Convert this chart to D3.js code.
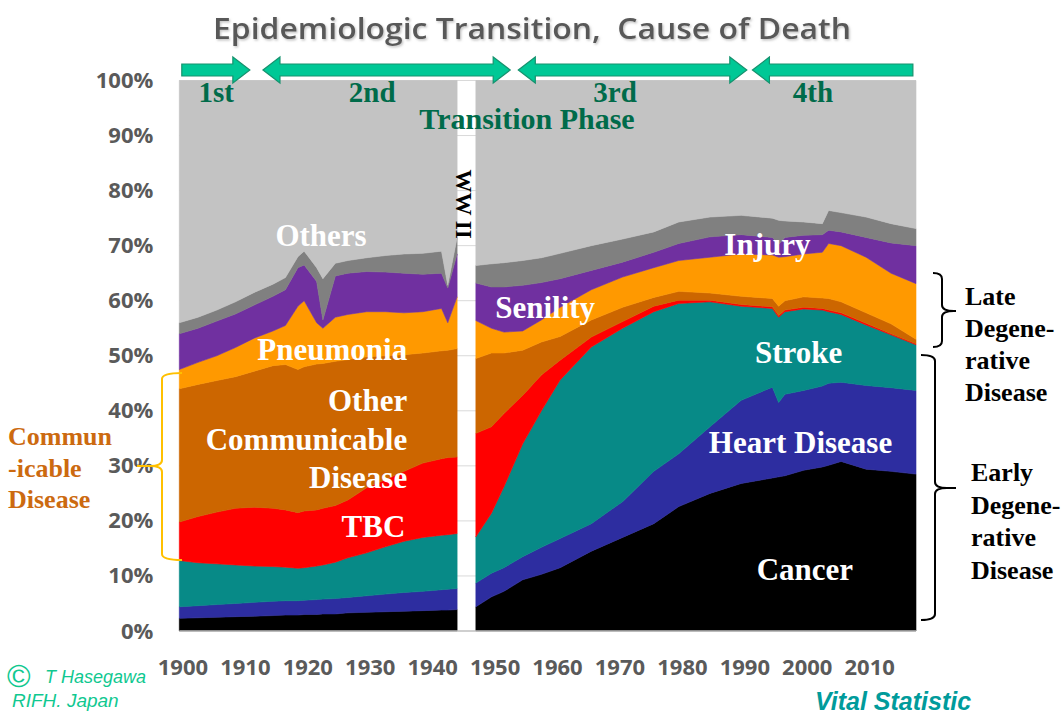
<!DOCTYPE html>
<html>
<head>
<meta charset="utf-8">
<script src="https://cdn.jsdelivr.net/npm/d3@7"></script>
<style>
  body { margin: 0; background: #fff; }
  svg { display: block; }
</style>
</head>
<body>
<svg id="chart"></svg>
<script>
// share of deaths (%) by cause; war years 1944-46 missing
const prewarYears     = [1900, 1903, 1906, 1909, 1912, 1915, 1917, 1919, 1920, 1922, 1923, 1925, 1927, 1930, 1933, 1936, 1939, 1942, 1943, 1944.5];
const prewarCancer    = [2.3, 2.4, 2.5, 2.6, 2.7, 2.8, 2.9, 2.9, 3.0, 3.0, 3.1, 3.1, 3.3, 3.4, 3.5, 3.6, 3.7, 3.8, 3.8, 3.9];
const prewarHeart     = [2.1, 2.2, 2.3, 2.4, 2.5, 2.6, 2.6, 2.6, 2.6, 2.7, 2.7, 2.8, 2.8, 3.0, 3.2, 3.4, 3.5, 3.7, 3.8, 3.8];
const prewarStroke    = [8.4, 7.8, 7.4, 7.0, 6.6, 6.3, 6.1, 5.9, 5.9, 6.1, 6.2, 6.6, 7.2, 7.8, 8.6, 9.3, 9.8, 9.9, 9.9, 10.0];
const prewarTbc       = [7.0, 8.4, 9.4, 10.3, 10.7, 10.6, 10.4, 10.1, 10.3, 10.2, 10.3, 10.3, 10.5, 11.8, 12.2, 12.7, 13.5, 13.9, 14.0, 13.9];
const prewarOtherComm = [24.2, 24.0, 23.9, 23.9, 24.7, 25.9, 26.4, 26.0, 26.2, 26.5, 26.3, 26.2, 25.5, 23.8, 22.5, 21.2, 20.0, 19.6, 19.5, 19.7];
const prewarPneumonia = [3.5, 4.0, 4.5, 5.3, 6.0, 6.3, 7.1, 11.5, 12.0, 7.5, 6.4, 8.0, 8.2, 8.2, 8.0, 7.6, 7.5, 7.7, 5.0, 9.4];
const prewarSenility  = [6.5, 6.2, 6.3, 6.1, 6.0, 6.3, 6.5, 7.0, 6.5, 7.5, 1.5, 7.5, 7.5, 7.3, 7.2, 7.2, 6.8, 6.4, 6.3, 7.8];
const prewarInjury    = [2.0, 2.0, 2.0, 2.2, 2.3, 2.2, 2.2, 2.0, 2.5, 2.5, 7.5, 2.3, 2.3, 2.5, 3.0, 3.5, 3.8, 4.0, 0.5, 3.0];
const prewarOthers    = [44.0, 43.0, 41.7, 40.2, 38.5, 37.0, 35.8, 32.0, 31.0, 34.0, 36.0, 33.2, 32.7, 32.2, 31.8, 31.5, 31.4, 31.0, 37.2, 28.5];

const postwarYears     = [1947.5, 1950, 1952, 1955, 1958, 1961, 1966, 1971, 1976, 1980, 1985, 1990, 1995, 1996, 1997, 2000, 2003, 2004, 2006, 2010, 2014, 2018];
const postwarCancer    = [4.4, 6.2, 7.2, 9.3, 10.3, 11.5, 14.5, 17.0, 19.5, 22.6, 25.0, 26.8, 27.8, 28.0, 28.2, 29.2, 29.8, 30.1, 30.8, 29.4, 29.0, 28.5];
const postwarHeart     = [4.3, 4.3, 4.3, 4.2, 4.9, 5.3, 5.0, 6.5, 9.5, 9.6, 12.1, 15.1, 16.5, 13.5, 14.8, 14.5, 14.7, 14.9, 14.4, 15.2, 15.2, 15.2];
const postwarStroke    = [8.4, 10.9, 14.7, 20.5, 24.8, 28.8, 32.1, 31.5, 29.0, 27.3, 22.7, 17.1, 14.3, 15.5, 15.0, 14.8, 13.8, 13.0, 12.3, 11.0, 9.6, 8.3];
const postwarTbc       = [18.8, 15.7, 13.3, 8.8, 6.5, 3.6, 1.8, 1.2, 1.0, 0.6, 0.3, 0.3, 0.3, 0.3, 0.3, 0.3, 0.3, 0.3, 0.3, 0.3, 0.2, 0.2];
const postwarOtherComm = [13.6, 13.4, 11.0, 8.2, 6.0, 4.3, 3.1, 2.6, 1.6, 1.6, 1.3, 1.5, 1.5, 1.7, 1.7, 1.9, 1.9, 2.1, 2.0, 1.9, 1.8, 0.8];
const postwarPneumonia = [6.9, 4.5, 3.8, 3.5, 4.0, 5.3, 5.5, 5.5, 5.4, 5.6, 6.5, 7.7, 7.9, 8.9, 8.0, 7.8, 8.3, 10.0, 10.2, 10.1, 9.2, 10.1];
const postwarSenility  = [6.8, 7.5, 8.2, 8.3, 6.8, 5.2, 3.5, 2.7, 2.8, 3.1, 3.7, 3.5, 3.2, 2.3, 3.5, 3.4, 3.2, 2.4, 2.5, 3.6, 5.5, 6.9];
const postwarInjury    = [3.2, 4.2, 4.4, 4.5, 4.5, 4.6, 4.5, 4.2, 3.7, 3.9, 3.6, 3.5, 3.5, 4.4, 3.0, 2.4, 2.0, 3.6, 3.5, 3.7, 3.5, 3.1];
const postwarOthers    = [33.6, 33.3, 33.1, 32.7, 32.2, 31.4, 30.0, 28.8, 27.5, 25.7, 24.8, 24.5, 25.0, 25.4, 25.5, 25.7, 26.0, 23.6, 24.0, 24.8, 26.0, 26.9];

const causeKeys = ["cancer", "heart", "stroke", "tbc", "otherComm", "pneumonia", "senility", "injury", "others"];
const causeColors = ["#000000", "#2d2da0", "#078a87", "#ff0000", "#cc6600", "#ff9900", "#7030a0", "#808080", "#c3c3c3"];

const yTicks = d3.range(0, 101, 10);
const yearTicks = d3.range(1900, 2011, 10);

// transition phases (years covered by each arrow)
const phases = [
  { label: "1st", from: 1900.4, to: 1911.3, left: false, right: true,  mid: 1905.9 },
  { label: "2nd", from: 1913.4, to: 1953.0, left: true,  right: true,  mid: 1930.9 },
  { label: "3rd", from: 1954.3, to: 1990.9, left: true,  right: true,  mid: 1969.8 },
  { label: "4th", from: 1991.8, to: 2017.5, left: true,  right: false, mid: 2001.5 }
];

const width = 1063, height = 716;
const svg = d3.select("#chart").attr("width", width).attr("height", height);

const x = d3.scaleLinear().domain([1900, 2018]).range([179.3, 916]);
const xLabels = d3.scaleLinear().domain([1899.5, 2017.5]).range([179.3, 916]);
const y = d3.scaleLinear().domain([0, 100]).range([631, 80.5]);

const defs = svg.append("defs");
const shadow = defs.append("filter").attr("id", "soft").attr("x", "-5%").attr("y", "-20%").attr("width", "110%").attr("height", "150%");
shadow.append("feDropShadow").attr("dx", 1.2).attr("dy", 1.5).attr("stdDeviation", 1)
  .attr("flood-color", "#999").attr("flood-opacity", 0.6);

function rows(years, cols) {
  return years.map((yr, i) => {
    const r = { year: yr };
    causeKeys.forEach((k, j) => r[k] = cols[j][i]);
    return r;
  });
}
const prewar = rows(prewarYears, [prewarCancer, prewarHeart, prewarStroke, prewarTbc, prewarOtherComm,
  prewarPneumonia, prewarSenility, prewarInjury, prewarOthers]);
const postwar = rows(postwarYears, [postwarCancer, postwarHeart, postwarStroke, postwarTbc, postwarOtherComm,
  postwarPneumonia, postwarSenility, postwarInjury, postwarOthers]);

const stack = d3.stack().keys(causeKeys);
const area = d3.area()
  .x(d => x(d.data.year))
  .y0(d => y(d[0]))
  .y1(d => y(d[1]));

// gridlines
svg.append("g")
  .selectAll("line")
  .data(yTicks.slice(1))
  .enter()
  .append("line")
  .attr("x1", x(1900)).attr("x2", x(2018))
  .attr("y1", d => y(d)).attr("y2", d => y(d))
  .attr("stroke", "#d9d9d9")
  .attr("stroke-width", 1);

// stacked areas
[prewar, postwar].forEach(part => {
  svg.append("g")
    .selectAll("path")
    .data(stack(part))
    .enter()
    .append("path")
    .attr("d", area)
    .attr("fill", (d, i) => causeColors[i])
    .attr("stroke", (d, i) => causeColors[i])
    .attr("stroke-width", 0.6);
});

// baseline
svg.append("line")
  .attr("x1", x(1900)).attr("x2", x(2018))
  .attr("y1", y(0)).attr("y2", y(0))
  .attr("stroke", "#bfbfbf").attr("stroke-width", 1.5);

// WW II text in the gap
svg.append("text")
  .attr("transform", "translate(" + (x(1946) - 2) + "," + 204 + ") rotate(90)")
  .attr("text-anchor", "middle")
  .attr("dy", "0.35em")
  .style("font-family", "'Liberation Serif', serif")
  .style("font-weight", "bold")
  .style("font-size", "23px")
  .attr("fill", "#000")
  .text("WW II");

// Y axis
const yAxis = svg.append("g")
  .attr("transform", "translate(" + x(1900) + ",0)")
  .call(d3.axisLeft(y).tickValues(yTicks).tickFormat(d => d + "%").tickSize(0).tickPadding(26));
yAxis.select(".domain").remove();
yAxis.selectAll("text")
  .style("font-family", "'Open Sans', sans-serif")
  .style("font-weight", "bold")
  .style("font-size", "22px")
  .attr("fill", "#5a5a5a");

// X axis
const xAxis = svg.append("g")
  .attr("transform", "translate(0," + y(0) + ")")
  .call(d3.axisBottom(xLabels).tickValues(yearTicks).tickFormat(d3.format("d")).tickSize(0).tickPadding(28));
xAxis.select(".domain").remove();
xAxis.selectAll("text")
  .style("font-family", "'Open Sans', sans-serif")
  .style("font-weight", "bold")
  .style("font-size", "22px")
  .attr("fill", "#5a5a5a");

// phase arrows
const arrowY = 70, bodyH = 6, headH = 13, headL = 17;
function arrowPath(p) {
  const x0 = x(p.from), x1 = x(p.to);
  const a = p.left ? x0 + headL : x0;
  const b = p.right ? x1 - headL : x1;
  let pts = [];
  if (p.left) pts.push([x0, arrowY], [a, arrowY - headH], [a, arrowY - bodyH]);
  else pts.push([x0, arrowY - bodyH]);
  if (p.right) pts.push([b, arrowY - bodyH], [b, arrowY - headH], [x1, arrowY], [b, arrowY + headH], [b, arrowY + bodyH]);
  else pts.push([b, arrowY - bodyH], [b, arrowY + bodyH]);
  if (p.left) pts.push([a, arrowY + bodyH], [a, arrowY + headH]);
  else pts.push([x0, arrowY + bodyH]);
  return "M" + pts.map(q => q.join(",")).join("L") + "Z";
}
svg.append("g")
  .selectAll("path")
  .data(phases)
  .enter()
  .append("path")
  .attr("d", arrowPath)
  .attr("fill", "#00c896")
  .attr("stroke", "#16926e")
  .attr("stroke-width", 1.2);

const serif = "'Liberation Serif', 'Times New Roman', serif";
svg.append("g")
  .selectAll("text")
  .data(phases)
  .enter()
  .append("text")
  .attr("x", d => x(d.mid))
  .attr("y", 102)
  .attr("text-anchor", "middle")
  .style("font-family", serif)
  .style("font-weight", "bold")
  .style("font-size", "29px")
  .attr("fill", "#006b4a")
  .text(d => d.label);

svg.append("text")
  .attr("x", 527).attr("y", 129)
  .attr("text-anchor", "middle")
  .style("font-family", serif)
  .style("font-weight", "bold")
  .style("font-size", "30px")
  .attr("fill", "#006b4a")
  .text("Transition Phase");

// labels on the areas (year, percent, anchor)
const areaLabels = [
  { text: "Others", yr: 1922.7, v: 69.9, anchor: "middle" },
  { text: "Pneumonia", yr: 1936.5, v: 49.2, anchor: "end" },
  { text: "Other", yr: 1936.5, v: 39.9, anchor: "end" },
  { text: "Communicable", yr: 1936.5, v: 32.9, anchor: "end" },
  { text: "Disease", yr: 1936.5, v: 26.0, anchor: "end" },
  { text: "TBC", yr: 1936.2, v: 17.1, anchor: "end" },
  { text: "Senility", yr: 1958.6, v: 56.8, anchor: "middle" },
  { text: "Injury", yr: 1994.2, v: 68.3, anchor: "middle" },
  { text: "Stroke", yr: 1999.2, v: 48.6, anchor: "middle" },
  { text: "Heart Disease", yr: 1999.5, v: 32.3, anchor: "middle" },
  { text: "Cancer", yr: 2000.2, v: 9.3, anchor: "middle" }
];
svg.append("g")
  .selectAll("text")
  .data(areaLabels)
  .enter()
  .append("text")
  .attr("x", d => x(d.yr))
  .attr("y", d => y(d.v))
  .attr("text-anchor", d => d.anchor)
  .style("font-family", serif)
  .style("font-weight", "bold")
  .style("font-size", "31px")
  .attr("fill", "#fff")
  .text(d => d.text);

// braces
function brace(xEnd, xMid, xTip, y0, yM, y1) {
  const r = 6, s = Math.sign(xTip - xMid);
  return "M" + xEnd + "," + y0 +
    "Q" + xMid + "," + y0 + " " + xMid + "," + (y0 + r) +
    "L" + xMid + "," + (yM - r) +
    "Q" + xMid + "," + yM + " " + (xMid + s * 12) + "," + yM +
    "L" + xTip + "," + yM +
    "M" + (xMid + s * 12) + "," + yM +
    "Q" + xMid + "," + yM + " " + xMid + "," + (yM + r) +
    "L" + xMid + "," + (y1 - r) +
    "Q" + xMid + "," + y1 + " " + xEnd + "," + y1;
}
svg.append("path").attr("d", brace(933, 942, 956, 273, 311, 347))
  .attr("fill", "none").attr("stroke", "#000").attr("stroke-width", 2);
svg.append("path").attr("d", brace(921, 935, 956, 355, 488, 620))
  .attr("fill", "none").attr("stroke", "#000").attr("stroke-width", 2);
svg.append("path").attr("d", brace(182, 162, 137, 373, 466, 560))
  .attr("fill", "none").attr("stroke", "#ffc000").attr("stroke-width", 2);

function block(lines, x0, y0, dy, color) {
  const t = svg.append("text")
    .style("font-family", serif)
    .style("font-weight", "bold")
    .style("font-size", "26px")
    .attr("fill", color);
  lines.forEach((l, i) => t.append("tspan").attr("x", x0).attr("y", y0 + i * dy).text(l));
}
block(["Late", "Degene-", "rative", "Disease"], 965, 305, 32, "#000");
block(["Early", "Degene-", "rative", "Disease"], 971, 481, 32.5, "#000");
block(["Commun", "-icable", "Disease"], 8, 445, 31.5, "#cc6a10");

// title
svg.append("text")
  .attr("x", 532).attr("y", 39)
  .attr("text-anchor", "middle")
  .attr("filter", "url(#soft)")
  .style("font-family", "'Open Sans', sans-serif")
  .style("font-weight", 600)
  .style("font-size", "29px")
  .style("white-space", "pre")
  .attr("fill", "#595959")
  .attr("textLength", 638)
  .attr("lengthAdjust", "spacingAndGlyphs")
  .text("Epidemiologic Transition,  Cause of Death");

// credits
const credit = svg.append("g")
  .style("font-family", "'Liberation Sans', Arial, sans-serif")
  .style("font-style", "italic")
  .attr("fill", "#10c890");
credit.append("text").attr("x", 7).attr("y", 687).style("font-size", "32px").style("font-style", "normal").text("\u00a9");
credit.append("text").attr("x", 45).attr("y", 683).style("font-size", "18px").text("T Hasegawa");
credit.append("text").attr("x", 12).attr("y", 707).style("font-size", "19px").text("RIFH. Japan");

svg.append("text")
  .attr("x", 815).attr("y", 710)
  .style("font-family", "'Liberation Sans', Arial, sans-serif")
  .style("font-weight", "bold")
  .style("font-style", "italic")
  .style("font-size", "25px")
  .attr("fill", "#009b9b")
  .text("Vital Statistic");
</script>
</body>
</html>
